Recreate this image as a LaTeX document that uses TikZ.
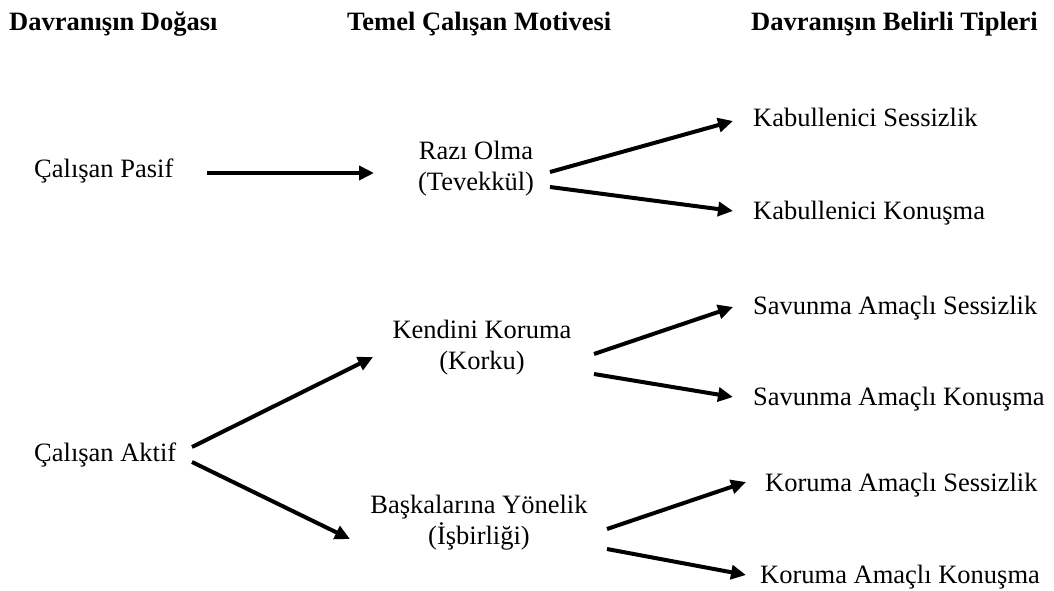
\documentclass[tikz,border=0pt]{standalone}
\usepackage{fontspec}
\setmainfont{Liberation Serif}
\usetikzlibrary{arrows.meta}
\tikzset{
  lbl/.style={inner sep=0pt, font=\fontsize{26.5}{31}\selectfont, align=center},
  hdr/.style={inner sep=0pt, font=\fontsize{26.5}{31}\selectfont\bfseries},
  arr/.style={line width=4pt, -{Triangle[length=15pt,width=14pt]}}
}
\begin{document}
\begin{tikzpicture}[x=1pt,y=-1pt]
\useasboundingbox (0,0) rectangle (1054,591);
\node[hdr, anchor=base west] (h1) at (9,31) {Davranışın Doğası};
\node[hdr, anchor=base west] (h2) at (347,31) {Temel Çalışan Motivesi};
\node[hdr, anchor=base west] (h3) at (751,31) {Davranışın Belirli Tipleri};

\node[lbl, anchor=base west] (pasif) at (34,177) {Çalışan Pasif};
\node[lbl] (razi) at (476,168.5) {Razı Olma\\(Tevekkül)};
\node[lbl, anchor=base west] (ks) at (753,127) {Kabullenici Sessizlik};
\node[lbl, anchor=base west] (kk) at (753,219) {Kabullenici Konuşma};

\node[lbl] (kendini) at (482,347.5) {Kendini Koruma\\(Korku)};
\node[lbl, anchor=base west] (ss) at (753,314) {Savunma Amaçlı Sessizlik};
\node[lbl, anchor=base west] (sk) at (753,405) {Savunma Amaçlı Konuşma};

\node[lbl, anchor=base west] (aktif) at (34,461) {Çalışan Aktif};
\node[lbl] (bask) at (479,522.5) {Başkalarına Yönelik\\(İşbirliği)};
\node[lbl, anchor=base west] (ros) at (765,491) {Koruma Amaçlı Sessizlik};
\node[lbl, anchor=base west] (rok) at (760,583) {Koruma Amaçlı Konuşma};

\coordinate (a1s) at (207,173); \coordinate (a1e) at (374,173);
\coordinate (a2s) at (550,172); \coordinate (a2e) at (733,121);
\coordinate (a3s) at (550,187); \coordinate (a3e) at (733,211);
\coordinate (a4s) at (594,354); \coordinate (a4e) at (733,307);
\coordinate (a5s) at (594,374); \coordinate (a5e) at (733,397);
\coordinate (a6s) at (192,447); \coordinate (a6e) at (373,357);
\coordinate (a7s) at (192,462); \coordinate (a7e) at (350,539);
\coordinate (a8s) at (607,529); \coordinate (a8e) at (746,482);
\coordinate (a9s) at (607,549); \coordinate (a9e) at (746,575);

\draw[arr] (a1s) -- (a1e);
\draw[arr] (a2s) -- (a2e);
\draw[arr] (a3s) -- (a3e);
\draw[arr] (a4s) -- (a4e);
\draw[arr] (a5s) -- (a5e);
\draw[arr] (a6s) -- (a6e);
\draw[arr] (a7s) -- (a7e);
\draw[arr] (a8s) -- (a8e);
\draw[arr] (a9s) -- (a9e);
\end{tikzpicture}
\end{document}
